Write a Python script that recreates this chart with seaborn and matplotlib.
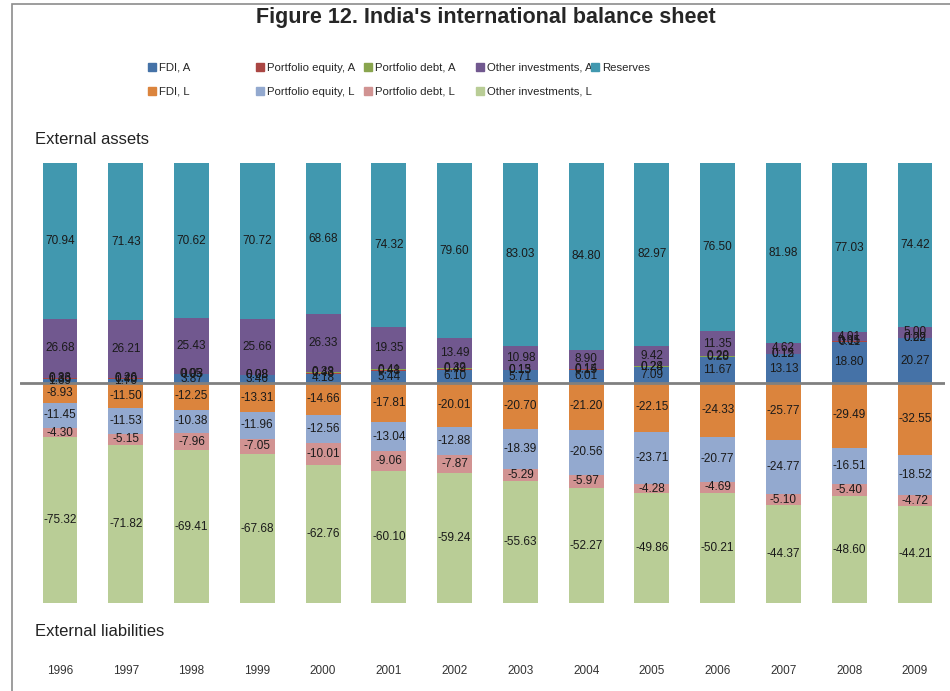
"India's international balance sheet: asset and liability shares by year, stacked above/below zero"
import matplotlib
matplotlib.use("Agg")
import matplotlib.pyplot as plt
from matplotlib.patches import Patch, Rectangle
import numpy as np
import pandas as pd
import seaborn as sns

# ------------------------------------------------ DATA ---------------------------------------------------
years = ['1996', '1997', '1998', '1999', '2000', '2001', '2002',
         '2003', '2004', '2005', '2006', '2007', '2008', '2009']

# assets, % of total external assets
fdi_a = [1.69, 1.70, 3.87, 3.46, 4.18, 5.44, 6.10, 5.71, 6.01, 7.09, 11.67, 13.13, 18.80, 20.27]
pe_a = [0.36, 0.40, 0.05, 0.08, 0.43, 0.48, 0.49, 0.15, 0.15, 0.28, 0.28, 0.15, 0.11, 0.29]
pd_a = [0.33, 0.26, 0.03, 0.08, 0.38, 0.41, 0.32, 0.13, 0.14, 0.24, 0.20, 0.12, 0.05, 0.02]
oi_a = [26.68, 26.21, 25.43, 25.66, 26.33, 19.35, 13.49, 10.98, 8.90, 9.42, 11.35, 4.62, 4.01, 5.00]
reserves = [70.94, 71.43, 70.62, 70.72, 68.68, 74.32, 79.60, 83.03, 84.80, 82.97, 76.50, 81.98, 77.03, 74.42]

# liabilities, % of total external liabilities (negative)
fdi_l = [-8.93, -11.50, -12.25, -13.31, -14.66, -17.81, -20.01, -20.70, -21.20, -22.15, -24.33, -25.77, -29.49, -32.55]
pe_l = [-11.45, -11.53, -10.38, -11.96, -12.56, -13.04, -12.88, -18.39, -20.56, -23.71, -20.77, -24.77, -16.51, -18.52]
pd_l = [-4.30, -5.15, -7.96, -7.05, -10.01, -9.06, -7.87, -5.29, -5.97, -4.28, -4.69, -5.10, -5.40, -4.72]
oi_l = [-75.32, -71.82, -69.41, -67.68, -62.76, -60.10, -59.24, -55.63, -52.27, -49.86, -50.21, -44.37, -48.60, -44.21]

asset_names = ['FDI, A', 'Portfolio equity, A', 'Portfolio debt, A', 'Other investments, A', 'Reserves']
liab_names = ['FDI, L', 'Portfolio equity, L', 'Portfolio debt, L', 'Other investments, L']
asset_colors = ['#4572A7', '#AA4643', '#89A54E', '#71588F', '#4198AF']
liab_colors = ['#DB843D', '#93A9CF', '#D19392', '#B9CD96']


def main():
    sns.set_theme(style="white")
    plt.rcParams['font.family'] = ['Liberation Sans', 'DejaVu Sans']

    fig = plt.figure(figsize=(9.5, 6.91), dpi=100)
    # axes: x 20..945 px, y from 163 (+100) to 603 (-100) px
    ax = fig.add_axes([20 / 950, 88 / 691, 925 / 950, 440 / 691])

    df = pd.DataFrame({'year': years})
    for name, vals in zip(asset_names, [fdi_a, pe_a, pd_a, oi_a, reserves]):
        df[name] = vals
    for name, vals in zip(liab_names, [fdi_l, pe_l, pd_l, oi_l]):
        df[name] = vals

    # stacked bars: draw each series on top of the running total
    for names, colors in [(asset_names, asset_colors), (liab_names, liab_colors)]:
        bottom = np.zeros(len(years))
        for name, col in zip(names, colors):
            sns.barplot(data=df, x='year', y=name, color=col, width=0.53,
                        bottom=bottom, ax=ax, saturation=1, linewidth=0,
                        errorbar=None)
            vals = df[name].to_numpy()
            for i, v in enumerate(vals):
                ax.text(i, bottom[i] + v / 2, f"{v:.2f}", ha='center', va='center',
                        fontsize=8.5, color='#1a1a1a')
            bottom = bottom + vals

    ax.axhline(0, color='#808080', lw=2)
    ax.set_ylim(-100, 100)
    ax.set_xlim(-0.608, 13.456)
    ax.set_yticks([])
    ax.set_xlabel('')
    ax.set_ylabel('')
    ax.tick_params(axis='x', length=0, pad=45, labelsize=8.5, labelcolor='#333333')
    for s in ax.spines.values():
        s.set_visible(False)

    fig.text(35 / 950, 1 - 140 / 691, 'External assets',
             fontsize=12, va='center', ha='left', color='#222222')
    fig.text(35 / 950, 1 - 632 / 691, 'External liabilities',
             fontsize=12, va='center', ha='left', color='#222222')

    fig.text(486 / 950, 1 - 18 / 691, "Figure 12. India's international balance sheet",
             ha='center', va='center', fontsize=15.5, fontweight='bold')

    # legend columns, Excel style with equal spacing
    col_x = [148, 256, 364, 476, 591]
    pairs = [(0, 0), (1, 1), (2, 2), (3, 3), (4, None)]
    for cx, (ai, li) in zip(col_x, pairs):
        handles = [Patch(color=asset_colors[ai], label=asset_names[ai])]
        if li is not None:
            handles.append(Patch(color=liab_colors[li], label=liab_names[li]))
        fig.legend(handles=handles, loc='upper left',
                   bbox_to_anchor=(cx / 950, 1 - 63 / 691), frameon=False,
                   fontsize=8.2, handlelength=0.7, handleheight=0.7,
                   handletextpad=0.3, labelspacing=1.2, borderpad=0,
                   borderaxespad=0)

    # chart border (cropped on right and bottom)
    fig.add_artist(Rectangle((12 / 950, -0.1), 1.0, 1 - 4 / 691 + 0.1,
                             transform=fig.transFigure, fill=False,
                             edgecolor='#8c8c8c', lw=1.2))

    fig.savefig('out.png', dpi=100)


if __name__ == "__main__":
    main()
